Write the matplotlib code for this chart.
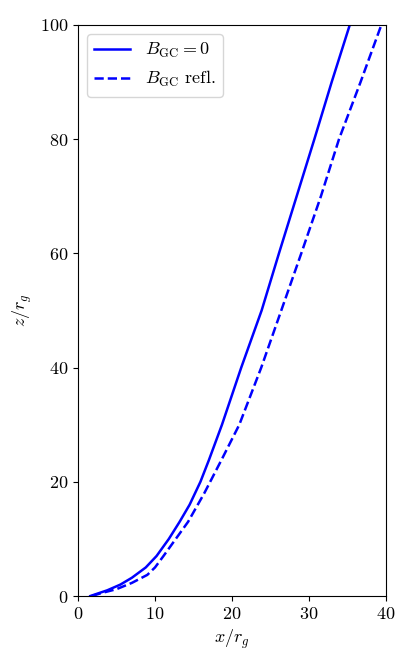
import matplotlib
matplotlib.use("Agg")
import matplotlib.pyplot as plt

plt.rcParams['font.family'] = 'serif'
plt.rcParams['font.serif'] = ['cmr10', 'DejaVu Serif']
plt.rcParams['mathtext.fontset'] = 'cm'
plt.rcParams['axes.formatter.use_mathtext'] = True
plt.rcParams['font.size'] = 13

solid_x = [1.6, 3.8, 5.5, 7.0, 8.8, 10.2, 11.8, 13.2, 14.5, 15.9, 17.0, 18.7, 21.2, 23.85, 26.1, 28.4, 30.7, 32.95, 35.3]
solid_z = [0.0, 1.0, 2.0, 3.2, 5.0, 7.0, 10.0, 13.0, 16.0, 20.0, 23.8, 30.0, 40.0, 50.0, 60.0, 70.0, 80.0, 90.0, 100.0]

refl_x = [1.8, 3.0, 5.0, 7.0, 9.0, 10.0, 11.1, 12.7, 14.3, 16.4, 18.7, 20.95, 23.8, 26.4, 29.0, 31.55, 33.9, 36.7, 39.4]
refl_z = [0.0, 0.5, 1.2, 2.3, 3.7, 5.0, 7.0, 10.0, 13.0, 18.0, 24.0, 30.0, 40.0, 50.0, 60.0, 70.0, 80.0, 90.0, 100.0]

labels = [r'$B_{\rm GC}=0$', r'$B_{\rm GC}$ refl.']

fig = plt.figure(figsize=(4.15, 6.64), dpi=100)
ax = fig.add_axes([0.188, 0.1024, 0.742, 0.86])
ax.plot(solid_x, solid_z, color='blue', lw=1.8, label=labels[0])
ax.plot(refl_x, refl_z, color='blue', lw=1.8, ls='--', label=labels[1])
ax.set_xlim(0, 40)
ax.set_ylim(0, 100)
ax.set_xticks([0, 10, 20, 30, 40])
ax.set_yticks([0, 20, 40, 60, 80, 100])
ax.set_xlabel(r'$x/r_g$')
ax.set_ylabel(r'$z/r_g$')
ax.legend(loc='upper left')
fig.savefig('out.png', dpi=100)
